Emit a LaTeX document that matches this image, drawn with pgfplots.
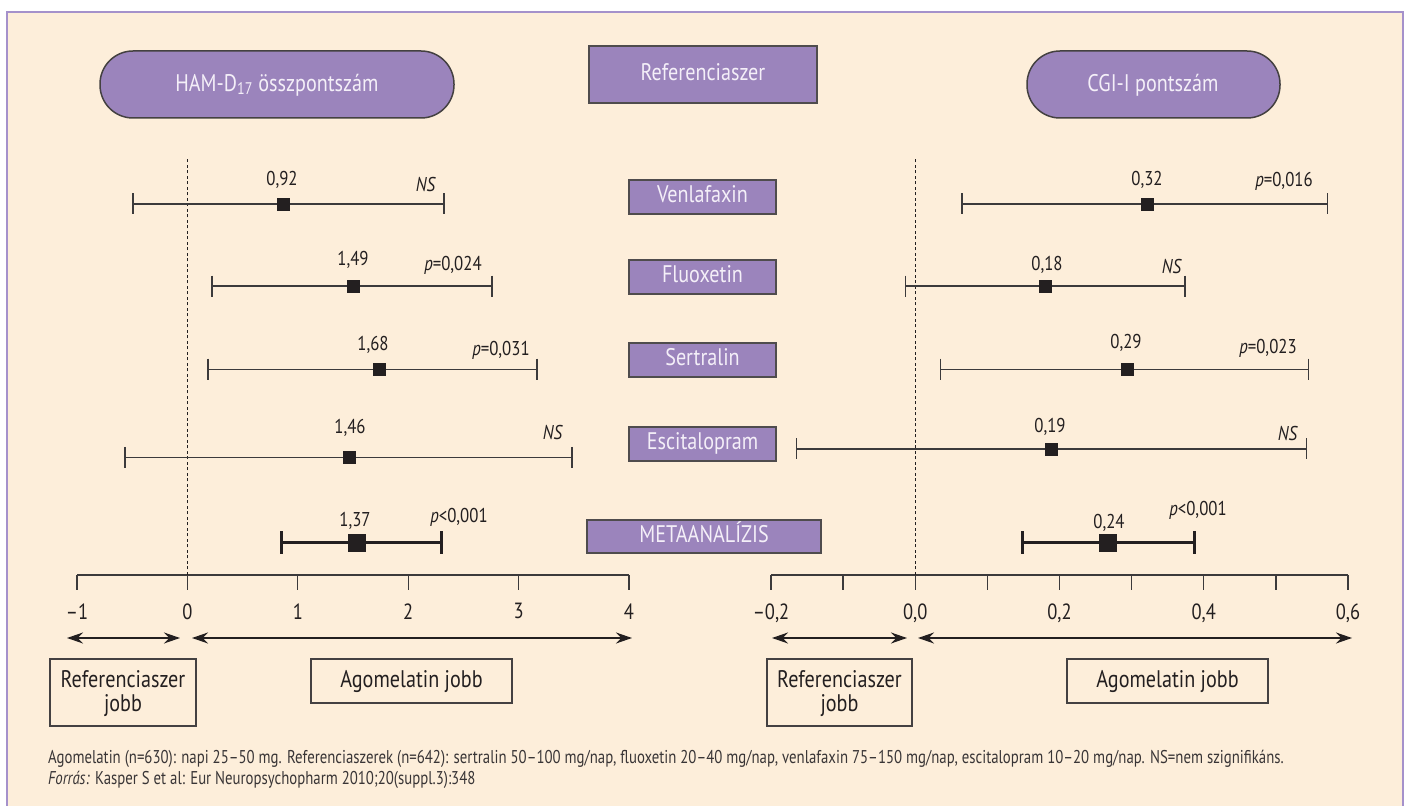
\documentclass[border=0pt]{standalone}
\usepackage{pgfplots}
\pgfplotsset{compat=1.18}
\usepackage{fontspec}
\setmainfont[FakeStretch=0.84]{PT Sans}
\newfontfamily\notefont[FakeStretch=0.80]{PT Sans}
\usetikzlibrary{arrows.meta}
\definecolor{cream}{HTML}{FDEEDA}
\definecolor{lila}{HTML}{9B84BC}
\definecolor{lilatext}{HTML}{F4EFF8}
\definecolor{frame}{HTML}{A591CB}
\definecolor{ink}{HTML}{231F20}
\definecolor{whisk}{HTML}{3C3A3B}
\newcommand{\bigf}{\fontsize{24}{28}\selectfont}
\newcommand{\valf}{\fontsize{20}{24}\selectfont}
\newcommand{\tickf}{\fontsize{22}{26}\selectfont}
\newcommand{\notef}{\notefont\fontsize{18.5}{21}\selectfont}
\newcommand{\lbox}[5]{\filldraw[fill=lila, draw=ink!80, line width=1.5pt] (#1,#2) rectangle (#3,#4);
  \node[text=lilatext, font=\bigf, inner sep=0pt] at ({(#1+#3)/2},{(#2+#4)/2}) {\strut #5};}
\pgfplotsset{
  forest/.style={scale only axis, height=417pt, ymin=0.622, ymax=5.542,
    axis x line*=bottom, axis y line=none, ytick=\empty,
    x axis line style={-, line width=1.3pt, color=whisk},
    tick align=outside, major tick length=15pt,
    xtick style={line width=1.3pt, color=whisk},
    xticklabel style={font=\tickf, text=ink, yshift=-10pt},
    clip=false, anchor=south west},
  whiskline/.style={color=whisk, line width=1.3pt, mark=none},
  metaline/.style={color=ink, line width=3pt, mark=none},
  cap/.style={only marks, mark=|, mark size=10.5pt, mark options={line width=1.3pt, color=whisk}},
  metacap/.style={only marks, mark=|, mark size=11.5pt, mark options={line width=3pt, color=ink}},
  sq/.style={only marks, mark=square*, mark size=6pt, mark options={draw=ink, fill=ink}},
  metasq/.style={only marks, mark=square*, mark size=8.5pt, mark options={draw=ink, fill=ink}},
  zeroline/.style={color=ink, line width=1.3pt, dash pattern=on 3pt off 2.5pt, mark=none},
}
\begin{document}
\begin{tikzpicture}
\useasboundingbox (0pt,0pt) rectangle (1409pt,806pt);
\begin{scope}[x=1pt,y=-1pt,shift={(0pt,806pt)}]
  \fill[white] (0,0) rectangle (1409,806);
  \filldraw[fill=cream, draw=frame, line width=2pt] (7,12) rectangle (1403,840);
  % pills
  \filldraw[fill=lila, draw=ink!85, line width=1.5pt, rounded corners=33pt] (100,51) rectangle (454,118);
  \node[text=lilatext, font=\bigf] at (277,85) {HAM-D\textsubscript{17} összpontszám};
  \filldraw[fill=lila, draw=ink!85, line width=1.5pt, rounded corners=33pt] (1027,51) rectangle (1280,118);
  \node[text=lilatext, font=\bigf] at (1153,85) {CGI-I pontszám};
  % centre boxes
  \lbox{589}{46}{817}{103}{Referenciaszer}
  \lbox{629}{180}{776}{214}{Venlafaxin}
  \lbox{629}{260}{776}{294}{Fluoxetin}
  \lbox{629}{343}{776}{377}{Sertralin}
  \lbox{629}{427}{776}{461}{Escitalopram}
  \lbox{587}{520}{821}{553}{METAANALÍZIS}
  % arrows
  \draw[{Stealth[length=16pt,width=11pt]}-{Stealth[length=16pt,width=11pt]}, line width=1.5pt, ink] (67,638) -- (180,638);
  \draw[{Stealth[length=16pt,width=11pt]}-{Stealth[length=16pt,width=11pt]}, line width=1.5pt, ink] (192,638) -- (632,638);
  \draw[{Stealth[length=16pt,width=11pt]}-{Stealth[length=16pt,width=11pt]}, line width=1.5pt, ink] (772,638) -- (907,638);
  \draw[{Stealth[length=16pt,width=11pt]}-{Stealth[length=16pt,width=11pt]}, line width=1.5pt, ink] (918,638) -- (1352,638);
  % bottom boxes
  \draw[ink!85, line width=1.3pt] (50,659) rectangle (196,726);
  \node[font=\bigf, text=ink, align=center] at (123,694) {Referenciaszer\\[-4pt]jobb};
  \draw[ink!85, line width=1.3pt] (311,659) rectangle (512,703);
  \node[font=\bigf, text=ink] at (411.5,682) {Agomelatin jobb};
  \draw[ink!85, line width=1.3pt] (767,659) rectangle (912,726);
  \node[font=\bigf, text=ink, align=center] at (839.5,694) {Referenciaszer\\[-4pt]jobb};
  \draw[ink!85, line width=1.3pt] (1067,659) rectangle (1268,703);
  \node[font=\bigf, text=ink] at (1167.5,682) {Agomelatin jobb};
  % footnote
  \node[anchor=base west, font=\notef, text=ink!90, inner sep=0pt] at (48,764) {Agomelatin (n=630): napi 25–50 mg. Referenciaszerek (n=642): sertralin 50–100 mg/nap, fluoxetin 20–40 mg/nap, venlafaxin 75–150 mg/nap, escitalopram 10–20 mg/nap. NS=nem szignifikáns.};
  \node[anchor=base west, font=\notef, text=ink!90, inner sep=0pt] at (48,785) {\textit{Forrás:} Kasper S et al: Eur Neuropsychopharm 2010;20(suppl.3):348};
  % value and p labels, left
  \node[font=\valf, text=ink] at (282,180) {0,92};
  \node[font=\valf, text=ink] at (426,185) {\textit{NS}};
  \node[font=\valf, text=ink] at (353,260) {1,49};
  \node[font=\valf, text=ink] at (453,265) {\textit{p}=0,024};
  \node[font=\valf, text=ink] at (373,345) {1,68};
  \node[font=\valf, text=ink] at (501,350) {\textit{p}=0,031};
  \node[font=\valf, text=ink] at (350,428) {1,46};
  \node[font=\valf, text=ink] at (553,433) {\textit{NS}};
  \node[font=\valf, text=ink] at (355,521) {1,37};
  \node[font=\valf, text=ink] at (459,517) {\textit{p}\textless0,001};
  % right
  \node[font=\valf, text=ink] at (1147,180) {0,32};
  \node[font=\valf, text=ink] at (1284,181) {\textit{p}=0,016};
  \node[font=\valf, text=ink] at (1047,265) {0,18};
  \node[font=\valf, text=ink] at (1172,267) {\textit{NS}};
  \node[font=\valf, text=ink] at (1126,343) {0,29};
  \node[font=\valf, text=ink] at (1268,348) {\textit{p}=0,023};
  \node[font=\valf, text=ink] at (1050,427) {0,19};
  \node[font=\valf, text=ink] at (1288,434) {\textit{NS}};
  \node[font=\valf, text=ink] at (1109,523) {0,24};
  \node[font=\valf, text=ink] at (1198,510) {\textit{p}\textless0,001};
\end{scope}

% left panel: HAM-D17
\begin{axis}[forest, at={(77pt,231pt)}, width=552pt, xmin=-1, xmax=4,
  xtick={-1,0,1,2,3,4}, xticklabels={–1,0,1,2,3,4}]
  \addplot[zeroline] coordinates {(0,0.622) (0,5.542)};
  % Venlafaxin
  \addplot[whiskline] coordinates {(-0.493,5) (2.324,5)};
  \addplot[cap] coordinates {(-0.493,5) (2.324,5)};
  % Fluoxetin
  \addplot[whiskline] coordinates {(0.223,4.03) (2.759,4.03)};
  \addplot[cap] coordinates {(0.223,4.03) (2.759,4.03)};
  % Sertralin
  \addplot[whiskline] coordinates {(0.187,3.05) (3.167,3.05)};
  \addplot[cap] coordinates {(0.187,3.05) (3.167,3.05)};
  % Escitalopram
  \addplot[whiskline] coordinates {(-0.565,2.01) (3.484,2.01)};
  \addplot[cap] coordinates {(-0.565,2.01) (3.484,2.01)};
  \addplot[sq] coordinates {(0.866,5) (1.500,4.03) (1.736,3.05) (1.464,2.01)};
  % Meta-analysis
  \addplot[metaline] coordinates {(0.848,1) (2.306,1)};
  \addplot[metacap] coordinates {(0.848,1) (2.306,1)};
  \addplot[metasq] coordinates {(1.536,1)};
\end{axis}

% right panel: CGI-I
\begin{axis}[forest, at={(771pt,231pt)}, width=577pt, xmin=-0.2, xmax=0.6,
  xtick={-0.2,-0.1,0,0.1,0.2,0.3,0.4,0.5,0.6},
  xticklabels={{–0,2},{},{0,0},{},{0,2},{},{0,4},{},{0,6}}]
  \addplot[zeroline] coordinates {(0,0.622) (0,5.542)};
  \addplot[whiskline] coordinates {(0.065,5) (0.572,5)};
  \addplot[cap] coordinates {(0.065,5) (0.572,5)};
  \addplot[whiskline] coordinates {(-0.014,4.03) (0.374,4.03)};
  \addplot[cap] coordinates {(-0.014,4.03) (0.374,4.03)};
  \addplot[whiskline] coordinates {(0.035,3.05) (0.545,3.05)};
  \addplot[cap] coordinates {(0.035,3.05) (0.545,3.05)};
  \addplot[whiskline] coordinates {(-0.165,2.11) (0.542,2.11)};
  \addplot[cap] coordinates {(-0.165,2.11) (0.542,2.11)};
  \addplot[sq] coordinates {(0.321,5) (0.180,4.03) (0.294,3.05) (0.188,2.11)};
  \addplot[metaline] coordinates {(0.149,1) (0.387,1)};
  \addplot[metacap] coordinates {(0.149,1) (0.387,1)};
  \addplot[metasq] coordinates {(0.267,1)};
\end{axis}
\end{tikzpicture}
\end{document}
